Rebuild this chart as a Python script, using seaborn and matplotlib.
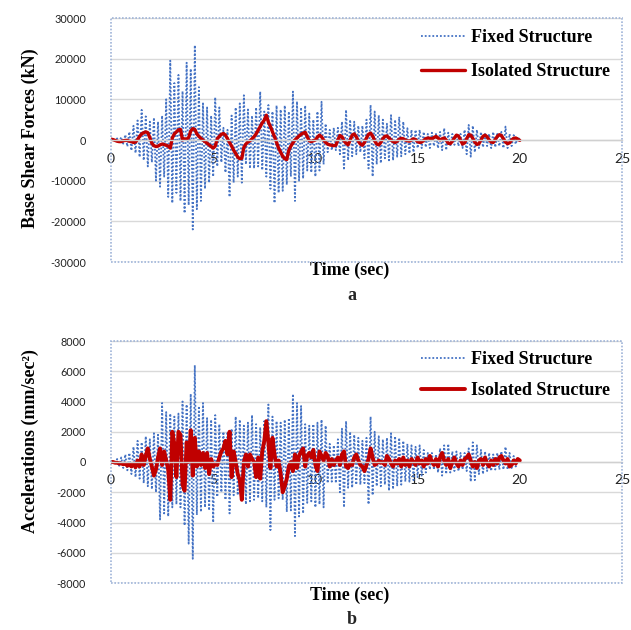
import numpy as np
import pandas as pd
import matplotlib
matplotlib.use("Agg")
from matplotlib import pyplot as plt
from matplotlib.patches import Rectangle
import seaborn as sns

# time axis, 0 to 20 s every 0.1 s
time = np.round(np.arange(201) * 0.1, 1)

# (a) base shear forces, kN
fixed_shear = [
    0, 200, -300, 400, -400, 700, -900, 1300, -1600, 2000,
    -2600, 3500, -3200, 4800, -4200, 7400, -5000, 5800, -6500, 4500,
    -5500, 5500, -10000, 4500, -11500, 6000, -9000, 10000, -14000, 19500,
    -15500, 14000, -13000, 16000, -15000, 12000, -18000, 19000, -16000, 17500,
    -22000, 23300, -17000, 13000, -15000, 9000, -12000, 8000, -10500, 6000,
    -9000, 10500, -6500, 8000, -5500, 3000, -8000, 2500, -14000, 6000,
    -10500, 8000, -9000, 9000, -10500, 11000, -6000, 7500, -7000, 6000,
    -7000, 8000, -6500, 11900, -7400, 7000, -9000, 8600, -12000, 7000,
    -15500, 8500, -13000, 7500, -12500, 8500, -11000, 7000, -9000, 11900,
    -15000, 9500, -10000, 8000, -9500, 8500, -7500, 6500, -8000, 5000,
    -9000, 7000, -7500, 9400, -6000, 4000, -3000, 2500, -2500, 3000,
    -2500, 3000, -3500, 4500, -7400, 7400, -5000, 5000, -4000, 4500,
    -3500, 3500, -3000, 3500, -4500, 5000, -7000, 8600, -9000, 7000,
    -6000, 6100, -5700, 5000, -4500, 4000, -5000, 6100, -5000, 5000,
    -4100, 5700, -4000, 4500, -3500, 2900, -3300, 2500, -3000, 2500,
    -2000, 2500, -2000, 2000, -1800, 1500, -2000, 1800, -1500, 1500,
    -2000, 2000, -2500, 2900, -2500, 1800, -1500, 1500, -1200, 1300,
    -1500, 1500, -2000, 2500, -3500, 3700, -4100, 3500, -3000, 2500,
    -2000, 2000, -1800, 1800, -1500, 1500, -2000, 2000, -1800, 1500,
    -1500, 2000, -2000, 3300, -2000, 1500, -1500, 1200, -1000, 800,
    0,
]
isolated_shear = [
    200, 100, -100, -300, -400, -400, -200, -100, -100, -300,
    -400, -600, -500, 100, 900, 1500, 1800, 2000, 1800, 600,
    -800, -1400, -1600, -1500, -1200, -1000, -1100, -1300, -1500, -2000,
    500, 1500, 2000, 2500, 2600, 0, 300, 200, 600, 2200,
    2800, 2600, 1500, 900, 400, 0, -400, -800, -1200, -1600,
    -2000, -1500, 300, 900, 1400, 1600, 1200, 300, -600, -1500,
    -2500, -3300, -4200, -4600, -4500, -1800, -1000, -500, -200, 300,
    800, 1500, 2400, 3300, 4200, 4900, 6100, 4400, 3300, 2000,
    800, -600, -2000, -3000, -4000, -4600, -4800, -2500, -1500, -700,
    0, 500, 1000, 1400, 1700, 1900, 800, -200, -400, -200,
    0, 700, 1200, 800, 0, -600, -1000, -1200, -1300, -1400,
    -1300, 0, 1100, 800, -200, -800, -1200, 0, 1200, 1500,
    800, -300, -1000, -1300, -600, 500, 1400, 1700, 1000, -200,
    -1000, -1200, -600, 300, 900, 1000, 500, 0, -400, -600,
    -300, 200, 400, 300, 0, -200, -300, 0, 300, 100,
    -400, -600, -500, -100, 300, 500, 400, 300, 600, 900,
    500, 0, 300, 500, 0, -800, -900, -300, 500, 1200,
    1000, 0, -1000, -700, 300, 1300, 1200, 400, -500, -1100,
    -900, 0, 900, 1200, 800, 0, -500, -600, 100, 900,
    1300, 1100, 300, -500, -900, -700, 0, 400, 500, 200,
    -100,
]

# (b) accelerations, mm/sec2
fixed_acc = [
    0, 100, -150, 200, -250, 300, -400, 500, -550, 600,
    -800, 1000, -1000, 1400, -1100, 1300, -1400, 1700, -1600, 1500,
    -1800, 1900, -2000, 1800, -3800, 3900, -3400, 3300, -3600, 3200,
    -3000, 3000, -2800, 3200, -3000, 4000, -4200, 3800, -5400, 4500,
    -6400, 6400, -3500, 3700, -3300, 3900, -3000, 2900, -3200, 2800,
    -4000, 3100, -2300, 2500, -2000, 2000, -2500, 2000, -3400, 2200,
    -2200, 3000, -2200, 2800, -2100, 2400, -2800, 2600, -2600, 3100,
    -2500, 2500, -2400, 2300, -2600, 2700, -3000, 3800, -4500, 3000,
    -2500, 2700, -2400, 2600, -2500, 2800, -3300, 2900, -3200, 4500,
    -4900, 3900, -3600, 3700, -3400, 2500, -2700, 2400, -2600, 2500,
    -3000, 2600, -2800, 2800, -3000, 2400, -1400, 1200, -1300, 1100,
    -1400, 1500, -2000, 2200, -3000, 2700, -1700, 2000, -1700, 1800,
    -1500, 1600, -1500, 1400, -1400, 1600, -2800, 3000, -2200, 2000,
    -1600, 1700, -1600, 1500, -1500, 1600, -1900, 1900, -1800, 1700,
    -1600, 1600, -1500, 1400, -1300, 1200, -1300, 1100, -1200, 1000,
    -1000, 1100, -900, 800, -700, 600, -500, 600, -500, 500,
    -700, 900, -900, 1100, -800, 1200, -700, 700, -600, 700,
    -600, 600, -500, 600, -600, 900, -1300, 1300, -1200, 1100,
    -800, 800, -800, 700, -600, 600, -600, 500, -500, 600,
    -500, 700, -500, 1000, -500, 600, -400, 400, -300, 300,
    0,
]
isolated_acc = [
    0, 0, -50, -50, -100, -100, -150, -100, -250, -150,
    -300, -100, -350, 100, -300, 500, -200, 400, 900, 200,
    -300, -900, -500, 300, 900, -200, 700, 100, -500, -2500,
    2000, 1200, -1000, 2000, 1800, -1500, -1900, 1300, 0, 2100,
    -900, 1600, -300, 700, -200, 600, -400, 600, -800, 200,
    -300, -100, -200, 300, 700, 900, 1400, 500, 2000, -1000,
    700, 0, -800, -1200, -2500, 0, 500, -300, 500, 200,
    0, -1000, 300, -1100, 700, 1400, 2700, 1300, -400, 1600,
    500, -300, 100, -800, -2000, -1600, -1100, -300, 0, -600,
    500, -400, 400, 700, 900, -300, 400, 600, 300, 800,
    -200, -600, 700, 400, 100, 600, 400, -300, 200, -200,
    100, 300, -200, 500, 700, -300, -400, -100, -200, 300,
    500, 100, -200, -300, -600, -200, 200, 900, 300, -200,
    -100, 100, -50, 0, -200, 400, 200, -100, -300, 100,
    -100, 200, -300, 300, -200, 100, -300, 200, 0, -200,
    300, -100, 100, -300, 200, -100, 400, 0, -200, 200,
    -300, 300, 600, 100, -200, 200, -400, 0, 300, -100,
    -300, 100, -200, 200, 300, 500, 100, -300, 0, -400,
    100, 200, -200, 300, -100, -300, 100, -200, 200, -100,
    300, 400, 100, -100, 200, -300, -200, 100, -100, 200,
    100,
]

x_ticks = [0, 5, 10, 15, 20, 25]
shear_ticks = [-30000, -20000, -10000, 0, 10000, 20000, 30000]
acc_ticks = [-8000, -6000, -4000, -2000, 0, 2000, 4000, 6000, 8000]

sns.set_style("white")
plt.rcParams["font.family"] = ["Liberation Serif", "DejaVu Serif"]
plt.rcParams["axes.unicode_minus"] = False

fig = plt.figure(figsize=(6.31, 6.30), dpi=100)
ax_a = fig.add_axes([111 / 631, 1 - 262 / 630, 511 / 631, 244 / 630])
ax_b = fig.add_axes([111 / 631, 1 - 583 / 630, 511 / 631, 242 / 630])


def draw_panel(ax, fixed, isolated, yticks, ylabel, label_y, leg_y, leg_space,
               xlab_y, red_width):
    df = pd.DataFrame({"Time": time, "Fixed": fixed, "Isolated": isolated})
    sns.lineplot(data=df, x="Time", y="Fixed", ax=ax, color="#4472c4",
                 linewidth=1.3, linestyle=(0, (1, 1.1)), label="Fixed Structure")
    sns.lineplot(data=df, x="Time", y="Isolated", ax=ax, color="#c00000",
                 linewidth=red_width, label="Isolated Structure")

    ax.set_xlim(0, 25)
    ax.set_ylim(yticks[0], yticks[-1])
    ax.set_xticks(x_ticks)
    ax.set_yticks(yticks)
    ax.grid(axis="y", color="#d9d9d9", linewidth=1.0)
    ax.grid(axis="x", visible=False)
    ax.set_axisbelow(True)

    ax.spines["bottom"].set_position(("data", 0))
    ax.spines["bottom"].set_color("#d0d0d0")
    ax.spines["bottom"].set_linewidth(1.0)
    for s in ["top", "left", "right"]:
        ax.spines[s].set_visible(False)
    ax.tick_params(axis="x", length=0, pad=9, labelsize=10,
                   labelfontfamily="Lato", labelcolor="#222222")
    ax.tick_params(axis="y", length=0, pad=18, labelsize=7.8,
                   labelfontfamily="Lato", labelcolor="#222222")

    # dotted plot-area border
    ax.add_patch(Rectangle((0, 0), 1, 1, transform=ax.transAxes, fill=False,
                           edgecolor="#9fb4d8", linewidth=1.2, linestyle=(0, (1, 1)),
                           clip_on=False, zorder=5))

    ax.set_xlabel("")
    ax.set_ylabel(ylabel, fontsize=13, fontweight="bold", color="black")
    ax.yaxis.set_label_coords(-0.141, label_y)
    ax.text(0.466, xlab_y, "Time (sec)", transform=ax.transAxes, ha="center",
            va="center", fontsize=13, fontweight="bold", color="black")

    leg = ax.legend(loc="upper left", bbox_to_anchor=(0.607, leg_y), frameon=False,
                    prop={"weight": "bold", "size": 13}, handlelength=2.4,
                    handletextpad=0.35, labelspacing=leg_space, borderpad=0,
                    borderaxespad=0)
    for t in leg.get_texts():
        t.set_color("black")


draw_panel(ax_a, fixed_shear, isolated_shear, shear_ticks,
           "Base Shear Forces (kN)", 0.506, 0.955, 0.95, -0.033, 2.4)
draw_panel(ax_b, fixed_acc, isolated_acc, acc_ticks,
           "Accelerations (mm/sec\u00b2)", 0.587, 0.959, 0.8, -0.050, 2.8)

fig.text(352 / 631, 1 - 296 / 630, "a", ha="center", va="center",
         fontsize=13, fontweight="bold")
fig.text(352 / 631, 1 - 620 / 630, "b", ha="center", va="center",
         fontsize=13, fontweight="bold")

plt.savefig("out.png", dpi=100)
